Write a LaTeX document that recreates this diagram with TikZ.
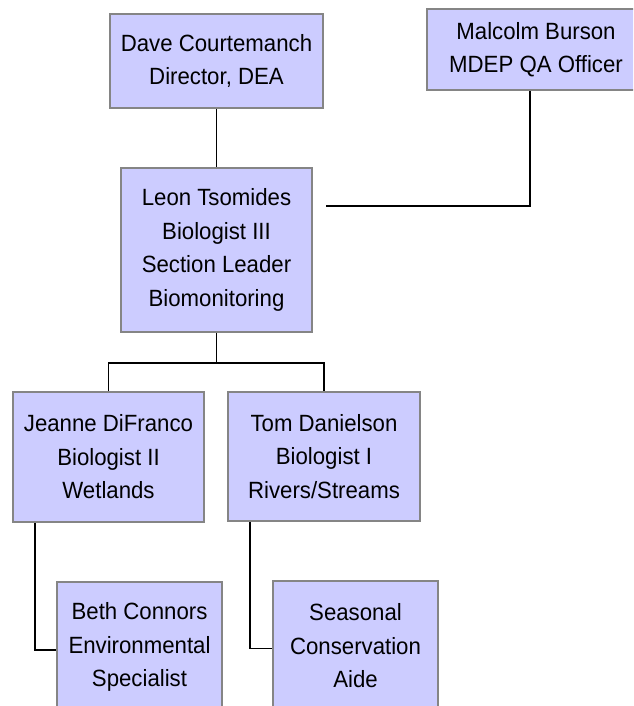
\documentclass[tikz,border=0pt]{standalone}
\usepackage{fontspec}
\setmainfont[FakeStretch=0.945]{Liberation Sans}
\definecolor{boxfill}{HTML}{CCCCFF}
\definecolor{boxline}{HTML}{858585}
\begin{document}
\begin{tikzpicture}[x=1pt,y=-1pt,
  orgbox/.style={draw=boxline, line width=1.6pt, fill=boxfill, align=center, inner sep=0pt,
    font=\fontsize{23.5}{33.5}\selectfont},
  link/.style={draw=black, line width=1.8pt}]
\clip (0,0) rectangle (633,706);
\fill[white] (0,0) rectangle (633,706);
\node[orgbox, minimum width=213pt, minimum height=94pt] (dave) at (216.5,61) {Dave Courtemanch\\Director, DEA};
\node[orgbox, minimum width=218pt, minimum height=81pt] (malcolm) at (536,49.5) {Malcolm Burson\\MDEP QA Officer};
\node[orgbox, minimum width=191pt, minimum height=164pt] (leon) at (216.5,250) {Leon Tsomides\\Biologist III\\Section Leader\\Biomonitoring};
\node[orgbox, minimum width=191pt, minimum height=130pt] (jeanne) at (108.5,457) {Jeanne DiFranco\\Biologist II\\Wetlands};
\node[orgbox, minimum width=192pt, minimum height=129pt] (tom) at (324,456.5) {Tom Danielson\\Biologist I\\Rivers/Streams};
\node[orgbox, minimum width=165pt, minimum height=130pt] (beth) at (139.5,647) {Beth Connors\\Environmental\\Specialist};
\node[orgbox, minimum width=165pt, minimum height=130pt] (seasonal) at (355.5,646) {Seasonal\\Conservation\\Aide};
\coordinate (mend) at (326,206);
\draw[link] (dave.south) -- (leon.north);
\draw[link] ([xshift=-6pt]malcolm.south) |- (mend);
\draw[link] (leon.south) -- ++(0,30) coordinate (bus);
\draw[link] (jeanne.north) |- (bus) -| (tom.north);
\draw[link] ([xshift=22.5pt]jeanne.south west) |- ([yshift=-3pt]beth.west);
\draw[link] ([xshift=23pt]tom.south west) |- ([yshift=-2.5pt]seasonal.west);
\end{tikzpicture}
\end{document}
